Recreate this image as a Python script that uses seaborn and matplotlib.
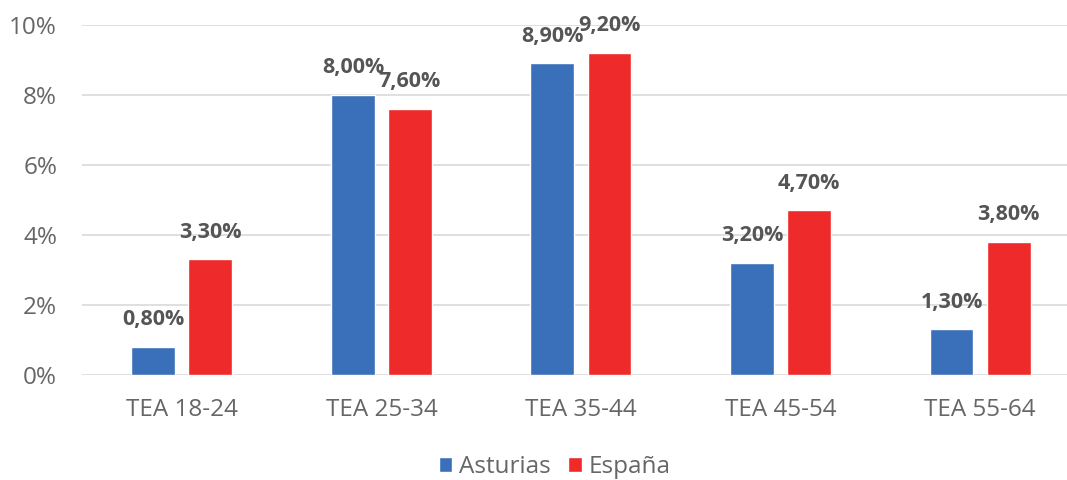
import pandas as pd
import seaborn as sns
import matplotlib.pyplot as plt
from matplotlib.ticker import FuncFormatter

categories = ["TEA 18-24", "TEA 25-34", "TEA 35-44", "TEA 45-54", "TEA 55-64"]
asturias = [0.8, 8.0, 8.9, 3.2, 1.3]
espana = [3.3, 7.6, 9.2, 4.7, 3.8]
series = ["Asturias", "España"]

df = pd.DataFrame({
    "grupo": categories * 2,
    "valor": asturias + espana,
    "region": [series[0]] * 5 + [series[1]] * 5,
})

sns.set_style("white")
plt.rcParams["font.family"] = ["Open Sans", "DejaVu Sans"]

fig = plt.figure(figsize=(10.67, 4.8), dpi=100)
ax = fig.add_axes([0.077, 0.219, 0.935, 0.729])

sns.barplot(data=df, x="grupo", y="valor", hue="region",
            palette=["#3A6FBA", "#EE2A2A"], width=0.572, gap=0.23,
            saturation=1, ax=ax)

for cont in ax.containers:
    ax.bar_label(cont, labels=[f"{v:.2f}%".replace(".", ",") for v in cont.datavalues],
                 padding=12, fontsize=15.5, fontweight="bold", color="#555555")

ax.set_ylim(0, 10)
ax.set_yticks([0, 2, 4, 6, 8, 10])
ax.yaxis.set_major_formatter(FuncFormatter(lambda v, p: f"{v:.0f}%"))
ax.set_xlim(-0.5, 4.5)
ax.grid(axis="y", color="#D9D9D9", linewidth=1.2)
ax.set_axisbelow(True)
for s in ax.spines.values():
    s.set_visible(False)
ax.tick_params(axis="both", length=0, labelsize=17.5, labelcolor="#666666")
ax.tick_params(axis="x", pad=17)
ax.tick_params(axis="y", pad=18)
ax.set_xlabel("")
ax.set_ylabel("")

handles, labels = ax.get_legend_handles_labels()
ax.get_legend().remove()
fig.legend(handles, labels, loc="center", bbox_to_anchor=(0.52, 0.027), ncol=2,
           frameon=False, fontsize=17.5, labelcolor="#666666", handlelength=0.55,
           handleheight=0.55, handletextpad=0.3, columnspacing=0.7)

fig.savefig("out.png", dpi=100)
